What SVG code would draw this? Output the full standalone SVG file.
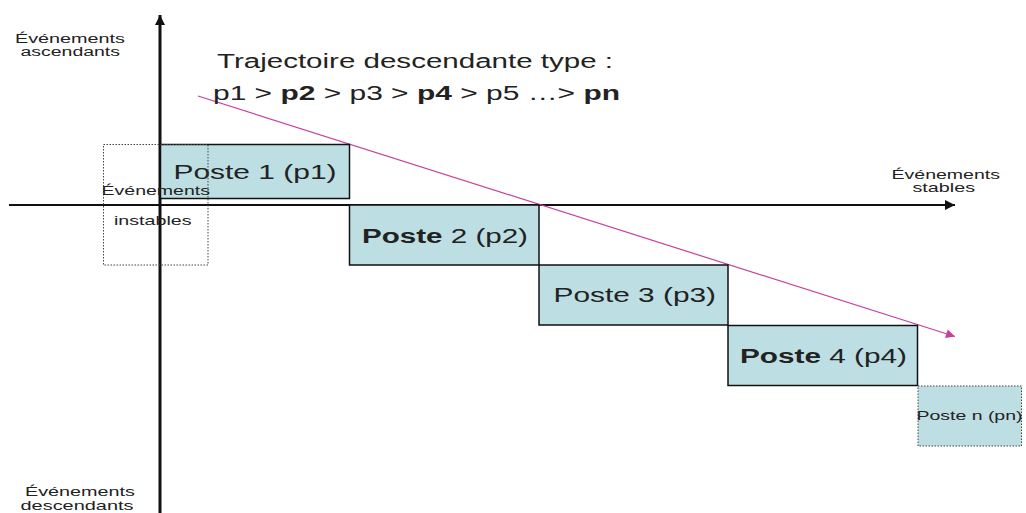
<svg xmlns="http://www.w3.org/2000/svg" width="1026" height="513" viewBox="0 0 1026 513">
<style>
text{font-family:"Liberation Sans",Arial,sans-serif;fill:#222}
.big{font-size:20px}
.sm{font-size:13.5px}
.xs{font-size:12.5px}
.box{fill:#bddfe3;stroke:#111;stroke-width:1.5}
.dot{stroke:#444;stroke-width:1;stroke-dasharray:1.5 1.5}
.b{font-weight:bold}
</style>
<defs>
<marker id="ah" viewBox="0 0 10 10" refX="10" refY="5" markerWidth="10" markerHeight="10" markerUnits="userSpaceOnUse" orient="auto">
<path d="M0,0 L10,5 L0,10 Z" fill="#111"/>
</marker>
<marker id="mh" viewBox="0 0 10 10" refX="10" refY="5" markerWidth="11" markerHeight="9" markerUnits="userSpaceOnUse" orient="auto">
<path d="M0,0 L10,5 L0,10 Z" fill="#c8409c"/>
</marker>
</defs>
<rect width="1026" height="513" fill="#fff"/>
<g id="connectors">
<line x1="160" y1="513" x2="160" y2="15" stroke="#111" stroke-width="3" marker-end="url(#ah)"/>
<line x1="9" y1="205" x2="955" y2="205" stroke="#111" stroke-width="2" marker-end="url(#ah)"/>
<line x1="198" y1="96" x2="955" y2="336.5" stroke="#c8409c" stroke-width="1.2" marker-end="url(#mh)"/>
</g>
<g id="p1"><rect class="box" x="160.5" y="144.5" width="189" height="54"/>
<text class="big" x="173.5" y="179" textLength="163" lengthAdjust="spacingAndGlyphs">Poste 1 (p1)</text></g>
<g id="p2"><rect class="box" x="349.5" y="205" width="189.5" height="60"/>
<text class="big" x="362" y="242.5" textLength="166" lengthAdjust="spacingAndGlyphs"><tspan class="b">Poste</tspan> 2 (p2)</text></g>
<g id="p3"><rect class="box" x="539" y="265" width="189" height="60"/>
<text class="big" x="553.5" y="302" textLength="162.5" lengthAdjust="spacingAndGlyphs">Poste 3 (p3)</text></g>
<g id="p4"><rect class="box" x="728" y="325.5" width="189.5" height="60"/>
<text class="big" x="740" y="363" textLength="167" lengthAdjust="spacingAndGlyphs"><tspan class="b">Poste</tspan> 4 (p4)</text></g>
<g id="pn"><rect x="918" y="386" width="103.5" height="60" fill="#bddfe3" class="dot"/>
<text class="sm" x="916.5" y="420" textLength="106" lengthAdjust="spacingAndGlyphs">Poste n (pn)</text></g>
<g id="instables"><rect x="103.5" y="144.5" width="104.5" height="120.5" fill="none" class="dot"/>
<text class="sm" x="101.5" y="194.5" textLength="108.5" lengthAdjust="spacingAndGlyphs">Événements</text>
<text class="sm" x="114" y="225" textLength="77.5" lengthAdjust="spacingAndGlyphs">instables</text></g>
<g id="title">
<text class="big" x="217" y="68" textLength="396" lengthAdjust="spacingAndGlyphs">Trajectoire descendante type :</text>
<text class="big" x="213" y="100" textLength="407" lengthAdjust="spacingAndGlyphs">p1 &gt; <tspan class="b">p2</tspan> &gt; p3 &gt; <tspan class="b">p4</tspan> &gt; p5 …&gt; <tspan class="b">pn</tspan></text>
</g>
<g id="ascendants">
<text class="xs" x="15" y="43" textLength="110" lengthAdjust="spacingAndGlyphs">Événements</text>
<text class="xs" x="20.5" y="56" textLength="99.5" lengthAdjust="spacingAndGlyphs">ascendants</text></g>
<g id="stables">
<text class="sm" x="891.5" y="178.5" textLength="108.5" lengthAdjust="spacingAndGlyphs">Événements</text>
<text class="sm" x="912.5" y="192" textLength="62.5" lengthAdjust="spacingAndGlyphs">stables</text></g>
<g id="descendants">
<text class="sm" x="25" y="495.5" textLength="110" lengthAdjust="spacingAndGlyphs">Événements</text>
<text class="sm" x="20.5" y="509.5" textLength="113" lengthAdjust="spacingAndGlyphs">descendants</text></g>
</svg>
